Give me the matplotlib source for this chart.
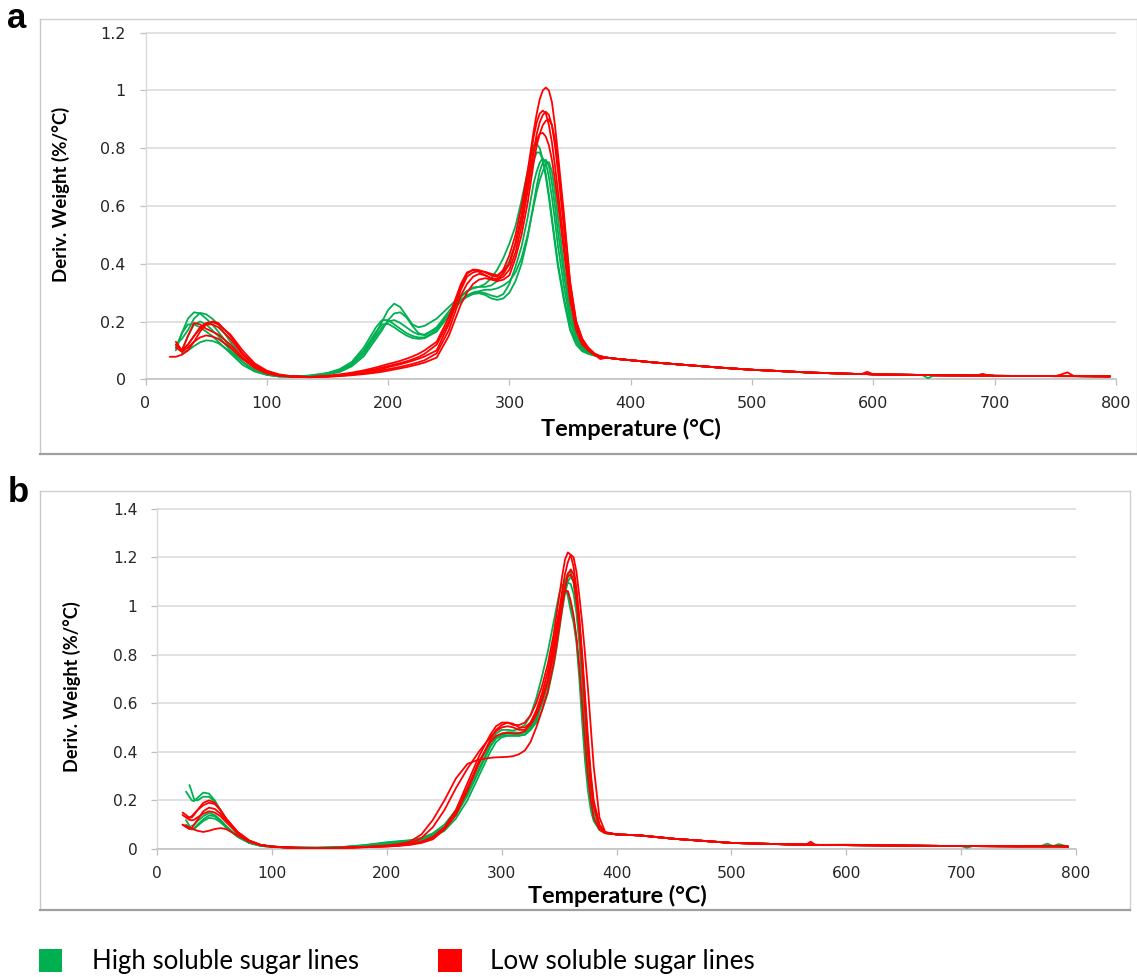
import numpy as np
import matplotlib
matplotlib.use('Agg')
import matplotlib.pyplot as plt
from matplotlib.lines import Line2D
from matplotlib.patches import Rectangle

# ---------------- DATA ----------------
# Panel a : temperature grid (°C) for the main part of each curve
Ta = [20, 25, 30, 35, 40, 45, 50, 55, 60, 70, 80, 90, 100, 110, 120, 135, 150, 160, 170, 180,
      190, 195, 200, 205, 210, 215, 220, 225, 230, 240, 250, 260, 265, 270, 275, 280, 285, 290,
      295, 300, 305, 310, 315, 317.5, 320, 322.5, 325, 327.5, 330, 332.5, 335, 337.5, 340, 345,
      350, 355, 360, 365, 370, 375]

# High soluble sugar lines (panel a)
GA1 = [None, 0.10, 0.16, 0.21, 0.232, 0.228, 0.21, 0.19, 0.165, 0.11, 0.06, 0.03, 0.016, 0.01, 0.009,
       0.012, 0.02, 0.03, 0.05, 0.09, 0.16, 0.2, 0.24, 0.262, 0.25, 0.22, 0.19, 0.18, 0.185, 0.21,
       0.25, 0.29, 0.305, 0.315, 0.32, 0.33, 0.35, 0.38, 0.42, 0.47, 0.53, 0.62, 0.72, 0.77, 0.81,
       0.815, 0.8, 0.76, 0.7, 0.63, 0.55, 0.47, 0.39, 0.27, 0.17, 0.12, 0.097, 0.088, 0.082, 0.078]
GA2 = [None, 0.12, 0.14, 0.17, 0.21, 0.23, 0.225, 0.21, 0.19, 0.13, 0.075, 0.04, 0.02, 0.012, 0.01,
       0.011, 0.017, 0.025, 0.045, 0.08, 0.14, 0.17, 0.205, 0.228, 0.232, 0.215, 0.185, 0.16, 0.152,
       0.18, 0.235, 0.285, 0.305, 0.318, 0.32, 0.32, 0.325, 0.34, 0.37, 0.41, 0.47, 0.55, 0.66, 0.71,
       0.76, 0.785, 0.785, 0.76, 0.71, 0.64, 0.56, 0.48, 0.4, 0.28, 0.18, 0.13, 0.1, 0.09, 0.083, 0.078]
GA3 = [None, 0.11, 0.16, 0.19, 0.19, 0.18, 0.165, 0.15, 0.13, 0.09, 0.05, 0.027, 0.015, 0.01, 0.01,
       0.013, 0.022, 0.035, 0.06, 0.11, 0.18, 0.205, 0.205, 0.19, 0.175, 0.16, 0.15, 0.145, 0.145,
       0.17, 0.225, 0.275, 0.29, 0.3, 0.302, 0.298, 0.29, 0.285, 0.295, 0.33, 0.39, 0.46, 0.56, 0.62,
       0.68, 0.72, 0.75, 0.765, 0.75, 0.7, 0.63, 0.55, 0.46, 0.32, 0.2, 0.14, 0.105, 0.09, 0.083, 0.078]
GA4 = [None, None, 0.1, 0.15, 0.19, 0.2, 0.19, 0.17, 0.15, 0.1, 0.06, 0.032, 0.017, 0.011, 0.01,
       0.012, 0.02, 0.032, 0.055, 0.1, 0.165, 0.19, 0.192, 0.18, 0.165, 0.152, 0.143, 0.14, 0.142,
       0.165, 0.22, 0.27, 0.285, 0.295, 0.298, 0.292, 0.28, 0.275, 0.28, 0.3, 0.34, 0.4, 0.49, 0.55,
       0.61, 0.67, 0.72, 0.75, 0.76, 0.74, 0.68, 0.6, 0.51, 0.36, 0.22, 0.15, 0.11, 0.092, 0.084, 0.078]
GA5 = [None, None, 0.09, 0.1, 0.115, 0.128, 0.135, 0.133, 0.125, 0.095, 0.06, 0.032, 0.017, 0.01, 0.009,
       0.011, 0.018, 0.028, 0.05, 0.09, 0.15, 0.18, 0.2, 0.205, 0.195, 0.18, 0.165, 0.155, 0.155,
       0.175, 0.225, 0.275, 0.29, 0.3, 0.305, 0.31, 0.31, 0.315, 0.325, 0.34, 0.37, 0.42, 0.5, 0.55,
       0.6, 0.65, 0.69, 0.72, 0.745, 0.752, 0.72, 0.65, 0.56, 0.39, 0.24, 0.16, 0.115, 0.095, 0.085, 0.079]

# Low soluble sugar lines (panel a)
RA1 = [0.078, 0.078, 0.085, 0.1, 0.13, 0.165, 0.19, 0.2, 0.195, 0.15, 0.09, 0.05, 0.025, 0.015, 0.01,
       0.008, 0.011, 0.015, 0.02, 0.027, 0.036, 0.041, 0.046, 0.051, 0.056, 0.062, 0.069, 0.077, 0.088,
       0.12, 0.2, 0.32, 0.365, 0.38, 0.378, 0.37, 0.36, 0.355, 0.38, 0.43, 0.5, 0.6, 0.72, 0.79, 0.86,
       0.92, 0.97, 1.0, 1.01, 1.0, 0.96, 0.88, 0.78, 0.57, 0.33, 0.2, 0.14, 0.11, 0.09, 0.08]
RA2 = [None, 0.13, 0.1, 0.15, 0.195, 0.19, 0.175, 0.165, 0.155, 0.12, 0.075, 0.04, 0.022, 0.013, 0.01,
       0.008, 0.012, 0.017, 0.023, 0.031, 0.041, 0.047, 0.053, 0.058, 0.064, 0.071, 0.079, 0.088, 0.1,
       0.13, 0.215, 0.33, 0.37, 0.378, 0.372, 0.36, 0.35, 0.348, 0.365, 0.4, 0.47, 0.57, 0.7, 0.77,
       0.84, 0.89, 0.92, 0.93, 0.92, 0.88, 0.82, 0.74, 0.65, 0.47, 0.29, 0.18, 0.13, 0.1, 0.085, 0.08]
RA3 = [None, 0.12, 0.1, 0.12, 0.15, 0.175, 0.19, 0.19, 0.18, 0.14, 0.085, 0.045, 0.024, 0.014, 0.01,
       0.007, 0.009, 0.012, 0.016, 0.021, 0.027, 0.031, 0.035, 0.039, 0.043, 0.048, 0.053, 0.059, 0.066,
       0.09, 0.17, 0.29, 0.33, 0.355, 0.365, 0.36, 0.35, 0.345, 0.355, 0.38, 0.44, 0.53, 0.65, 0.72,
       0.79, 0.85, 0.89, 0.915, 0.926, 0.915, 0.88, 0.81, 0.72, 0.52, 0.32, 0.19, 0.13, 0.1, 0.085, 0.07]
RA4 = [None, 0.11, 0.095, 0.11, 0.13, 0.145, 0.152, 0.148, 0.14, 0.11, 0.07, 0.04, 0.02, 0.012, 0.009,
       0.008, 0.01, 0.014, 0.019, 0.025, 0.032, 0.036, 0.042, 0.047, 0.052, 0.058, 0.064, 0.071, 0.079,
       0.1, 0.19, 0.31, 0.355, 0.37, 0.375, 0.372, 0.365, 0.36, 0.375, 0.4, 0.47, 0.56, 0.68, 0.74,
       0.79, 0.83, 0.85, 0.853, 0.84, 0.81, 0.76, 0.69, 0.61, 0.44, 0.27, 0.17, 0.12, 0.1, 0.085, 0.08]
RA5 = [None, None, 0.1, 0.12, 0.15, 0.18, 0.195, 0.198, 0.19, 0.155, 0.1, 0.055, 0.03, 0.017, 0.011,
       0.008, 0.009, 0.011, 0.014, 0.018, 0.023, 0.026, 0.03, 0.034, 0.038, 0.042, 0.047, 0.052, 0.058,
       0.075, 0.15, 0.26, 0.3, 0.33, 0.345, 0.35, 0.345, 0.34, 0.345, 0.36, 0.42, 0.5, 0.61, 0.68,
       0.75, 0.81, 0.85, 0.88, 0.895, 0.9, 0.88, 0.83, 0.75, 0.55, 0.34, 0.2, 0.14, 0.105, 0.088, 0.078]

# Panel a : tail (above 375 °C)
Ta_tail = [380, 390, 400, 420, 450, 475, 500, 550, 590, 595, 600, 640, 645, 650, 685, 690, 695, 700,
           750, 755, 760, 765, 795]
tail_a = [0.075, 0.07, 0.066, 0.058, 0.048, 0.04, 0.033, 0.023, 0.018, 0.018, 0.017, 0.015, 0.015,
          0.014, 0.013, 0.013, 0.013, 0.012, 0.011, 0.011, 0.011, 0.011, 0.01]
tail_a_red_bumps = [0.075, 0.07, 0.066, 0.058, 0.048, 0.04, 0.033, 0.023, 0.018, 0.026, 0.017, 0.015,
                    0.015, 0.014, 0.013, 0.019, 0.013, 0.012, 0.011, 0.017, 0.024, 0.012, 0.01]
tail_a_green_dip = [0.075, 0.07, 0.066, 0.058, 0.048, 0.04, 0.033, 0.023, 0.018, 0.018, 0.017, 0.015,
                    0.004, 0.014, 0.013, 0.013, 0.013, 0.012, 0.011, 0.011, 0.011, 0.011, 0.01]

# Panel b : temperature grid (°C)
Tb = [20, 22, 25, 28, 30, 32, 35, 40, 45, 50, 55, 60, 70, 80, 90, 100, 110, 120, 140, 160, 180, 200,
      210, 220, 230, 240, 250, 260, 270, 280, 290, 295, 300, 305, 310, 315, 320, 325, 330, 335, 340,
      345, 347.5, 350, 352.5, 355, 357.5, 360, 362.5, 365, 367.5, 370, 372.5, 375, 377.5, 380, 385, 390]

GB1 = [None, None, 0.236, 0.215, 0.2, 0.197, 0.21, 0.232, 0.228, 0.2, 0.16, 0.12, 0.06, 0.03, 0.015,
       0.01, 0.008, 0.006, 0.005, 0.007, 0.015, 0.025, 0.03, 0.035, 0.045, 0.065, 0.1, 0.16, 0.25, 0.35,
       0.44, 0.475, 0.49, 0.49, 0.487, 0.495, 0.51, 0.55, 0.62, 0.71, 0.81, 0.93, 0.99, 1.05, 1.088,
       1.08, 1.04, 0.98, 0.93, 0.85, 0.7, 0.52, 0.36, 0.24, 0.16, 0.115, 0.078, 0.065]
GB2 = [None, None, None, 0.263, 0.235, 0.205, 0.2, 0.215, 0.215, 0.195, 0.16, 0.12, 0.06, 0.03, 0.016,
       0.01, 0.008, 0.006, 0.005, 0.007, 0.012, 0.02, 0.025, 0.03, 0.04, 0.055, 0.085, 0.14, 0.22, 0.32,
       0.42, 0.455, 0.47, 0.475, 0.475, 0.475, 0.48, 0.5, 0.54, 0.6, 0.68, 0.8, 0.87, 0.95, 1.03, 1.1,
       1.135, 1.14, 1.1, 1.0, 0.86, 0.7, 0.52, 0.36, 0.24, 0.16, 0.09, 0.066]
GB3 = [None, None, 0.119, 0.095, 0.082, 0.085, 0.1, 0.122, 0.138, 0.135, 0.115, 0.09, 0.05, 0.025,
       0.013, 0.008, 0.007, 0.005, 0.005, 0.008, 0.016, 0.028, 0.032, 0.036, 0.045, 0.06, 0.09, 0.145,
       0.23, 0.33, 0.425, 0.455, 0.465, 0.468, 0.468, 0.468, 0.47, 0.49, 0.53, 0.6, 0.69, 0.82, 0.89,
       0.96, 1.03, 1.065, 1.06, 1.01, 0.95, 0.86, 0.74, 0.58, 0.42, 0.29, 0.19, 0.13, 0.08, 0.065]
GB4 = [None, None, 0.1, 0.088, 0.08, 0.082, 0.095, 0.115, 0.128, 0.125, 0.11, 0.088, 0.05, 0.025, 0.013,
       0.008, 0.007, 0.005, 0.005, 0.006, 0.01, 0.018, 0.022, 0.027, 0.035, 0.05, 0.075, 0.125, 0.2, 0.3,
       0.4, 0.44, 0.46, 0.465, 0.465, 0.465, 0.47, 0.49, 0.52, 0.57, 0.64, 0.75, 0.82, 0.9, 0.98, 1.05,
       1.1, 1.12, 1.1, 1.03, 0.92, 0.77, 0.6, 0.43, 0.29, 0.19, 0.1, 0.068]
GB5 = [None, None, None, None, 0.095, 0.1, 0.115, 0.135, 0.148, 0.14, 0.12, 0.095, 0.052, 0.026, 0.014,
       0.009, 0.007, 0.005, 0.005, 0.007, 0.013, 0.022, 0.028, 0.033, 0.042, 0.058, 0.088, 0.14, 0.225,
       0.325, 0.425, 0.46, 0.475, 0.48, 0.48, 0.478, 0.48, 0.5, 0.54, 0.6, 0.68, 0.8, 0.87, 0.95, 1.02,
       1.07, 1.095, 1.09, 1.05, 0.97, 0.85, 0.69, 0.52, 0.36, 0.24, 0.16, 0.09, 0.066]

RB1 = [None, 0.15, 0.14, 0.128, 0.13, 0.14, 0.16, 0.19, 0.2, 0.19, 0.16, 0.125, 0.07, 0.035, 0.017,
       0.01, 0.007, 0.005, 0.004, 0.005, 0.008, 0.012, 0.015, 0.02, 0.03, 0.05, 0.09, 0.16, 0.27, 0.38,
       0.47, 0.505, 0.52, 0.52, 0.51, 0.51, 0.52, 0.55, 0.6, 0.67, 0.76, 0.88, 0.96, 1.04, 1.12, 1.19,
       1.22, 1.21, 1.16, 1.07, 0.94, 0.78, 0.6, 0.42, 0.28, 0.18, 0.095, 0.067]
RB2 = [None, 0.1, 0.09, 0.082, 0.085, 0.1, 0.12, 0.155, 0.17, 0.165, 0.145, 0.115, 0.065, 0.033, 0.016,
       0.01, 0.007, 0.005, 0.004, 0.005, 0.007, 0.01, 0.013, 0.017, 0.025, 0.04, 0.08, 0.14, 0.24, 0.35,
       0.45, 0.49, 0.51, 0.52, 0.515, 0.5, 0.5, 0.52, 0.56, 0.62, 0.7, 0.82, 0.9, 0.98, 1.06, 1.13,
       1.18, 1.21, 1.2, 1.14, 1.04, 0.93, 0.8, 0.66, 0.5, 0.34, 0.13, 0.07]
RB3 = [None, 0.1, 0.095, 0.09, 0.085, 0.08, 0.075, 0.07, 0.075, 0.082, 0.086, 0.082, 0.055, 0.03, 0.016,
       0.01, 0.007, 0.005, 0.004, 0.005, 0.008, 0.015, 0.02, 0.03, 0.06, 0.12, 0.2, 0.29, 0.35, 0.368,
       0.375, 0.377, 0.378, 0.379, 0.382, 0.39, 0.405, 0.44, 0.5, 0.57, 0.65, 0.76, 0.83, 0.91, 0.99,
       1.07, 1.13, 1.15, 1.13, 1.06, 0.95, 0.8, 0.63, 0.46, 0.31, 0.2, 0.1, 0.068]
RB4 = [None, 0.14, 0.13, 0.12, 0.118, 0.12, 0.13, 0.145, 0.155, 0.15, 0.135, 0.11, 0.065, 0.033, 0.016,
       0.01, 0.007, 0.005, 0.004, 0.005, 0.008, 0.012, 0.015, 0.022, 0.045, 0.09, 0.16, 0.25, 0.33, 0.4,
       0.46, 0.485, 0.5, 0.505, 0.5, 0.49, 0.49, 0.51, 0.55, 0.61, 0.69, 0.8, 0.87, 0.95, 1.02, 1.08,
       1.12, 1.13, 1.1, 1.02, 0.9, 0.75, 0.58, 0.41, 0.27, 0.18, 0.095, 0.067]
RB5 = [None, None, 0.13, 0.13, 0.135, 0.145, 0.16, 0.18, 0.19, 0.185, 0.16, 0.125, 0.07, 0.035, 0.017,
       0.01, 0.007, 0.005, 0.004, 0.005, 0.008, 0.011, 0.014, 0.019, 0.03, 0.045, 0.085, 0.15, 0.25,
       0.36, 0.44, 0.465, 0.475, 0.478, 0.475, 0.475, 0.485, 0.52, 0.57, 0.64, 0.73, 0.85, 0.92, 0.98,
       1.03, 1.06, 1.06, 1.02, 0.96, 0.87, 0.75, 0.6, 0.44, 0.3, 0.2, 0.13, 0.08, 0.065]

Tb_tail = [400, 420, 450, 500, 550, 565, 569, 573, 600, 650, 700, 705, 710, 750, 770, 775, 780, 785, 793]
tail_b = [0.06, 0.056, 0.042, 0.025, 0.019, 0.018, 0.018, 0.017, 0.016, 0.014, 0.012, 0.012, 0.012,
          0.011, 0.011, 0.011, 0.011, 0.011, 0.01]
tail_b_red_bump = [0.06, 0.056, 0.042, 0.025, 0.019, 0.018, 0.03, 0.017, 0.016, 0.014, 0.012, 0.012,
                   0.012, 0.011, 0.011, 0.011, 0.011, 0.011, 0.01]
tail_b_green_wiggle = [0.06, 0.056, 0.042, 0.025, 0.019, 0.018, 0.018, 0.017, 0.018, 0.014, 0.012,
                       0.005, 0.012, 0.011, 0.013, 0.022, 0.012, 0.02, 0.01]

legend_labels = ['High soluble sugar lines', 'Low soluble sugar lines']
xticks = [0, 100, 200, 300, 400, 500, 600, 700, 800]
yticks_a = [0, 0.2, 0.4, 0.6, 0.8, 1, 1.2]
yticks_b = [0, 0.2, 0.4, 0.6, 0.8, 1, 1.2, 1.4]

GREEN = '#00B050'
RED = '#FF0000'

# ---------------- FIGURE ----------------
W, H = 1137, 977
fig = plt.figure(figsize=(W / 100, H / 100), dpi=100)
fig.patch.set_facecolor('white')


def fx(px):
    return px / W


def fy(py):
    return 1 - py / H


def frame(x0, y0, x1, y1):
    segs = [((x0, y0), (x1, y0), '#D0D0D0', 1.0),
            ((x0, y0), (x0, y1), '#C8C8C8', 1.0),
            ((x1, y0), (x1, y1), '#D0D0D0', 1.0),
            ((x0, y1), (x1, y1), '#A0A0A0', 1.6)]
    for (a, b, c, lw) in segs:
        fig.add_artist(Line2D([fx(a[0]), fx(b[0])], [fy(a[1]), fy(b[1])],
                              transform=fig.transFigure, color=c, lw=lw))


frame(39.5, 18.5, 1136.5, 453.5)
frame(39.5, 490.5, 1130, 910)


def ylab(v):
    return '%g' % v


def make_axes(rect, yt, ylim, fs):
    ax = fig.add_axes(rect)
    ax.set_xlim(0, 800)
    ax.set_ylim(0, ylim)
    ax.set_xticks(xticks)
    ax.set_yticks(yt)
    ax.set_yticklabels([ylab(v) for v in yt])
    ax.grid(axis='y', color='#D9D9D9', lw=1.1)
    ax.grid(axis='x', visible=False)
    ax.set_axisbelow(True)
    for s in ['top', 'right']:
        ax.spines[s].set_visible(False)
    ax.spines['left'].set_color('#D9D9D9')
    ax.spines['bottom'].set_color('#BFBFBF')
    ax.spines['left'].set_linewidth(1.0)
    ax.spines['bottom'].set_linewidth(1.1)
    ax.tick_params(axis='both', colors='#BFBFBF', labelcolor='#262626',
                   labelsize=fs, length=4.3, width=0.9, direction='out')
    ax.tick_params(axis='y', pad=10)
    ax.tick_params(axis='x', pad=8)
    ax.patch.set_alpha(0)
    return ax


# panel a axes: x 0->145.5px, 800->1116px ; y 0->379.3px, 1.2->32.3px
axa = make_axes([fx(145.5), fy(379.3), fx(1116) - fx(145.5), fy(32.3) - fy(379.3)],
                yticks_a, 1.2 * 1.001, 11.5)
# panel b axes: x 0->157.3px, 800->1076px ; y 0->849px, 1.4->508.3px
axb = make_axes([fx(157.3), fy(849), fx(1076) - fx(157.3), fy(508.3) - fy(849)],
                yticks_b, 1.4 * 1.001, 11.2)


def curve(ax, T, vals, Ttail, tail, color):
    x = np.array(list(T) + list(Ttail), dtype=float)
    y = np.array(list(vals) + list(tail), dtype=float)
    ax.plot(x, y, color=color, lw=1.3, solid_joinstyle='round', solid_capstyle='round', zorder=3)


for g, t in [(GA1, tail_a), (GA2, tail_a), (GA3, tail_a_green_dip), (GA4, tail_a), (GA5, tail_a)]:
    curve(axa, Ta, g, Ta_tail, t, GREEN)
for r, t in [(RA1, tail_a), (RA2, tail_a), (RA3, tail_a), (RA4, tail_a_red_bumps), (RA5, tail_a)]:
    curve(axa, Ta, r, Ta_tail, t, RED)

for g, t in [(GB1, tail_b_green_wiggle), (GB2, tail_b), (GB3, tail_b), (GB4, tail_b), (GB5, tail_b)]:
    curve(axb, Tb, g, Tb_tail, t, GREEN)
for r, t in [(RB1, tail_b), (RB2, tail_b_red_bump), (RB3, tail_b), (RB4, tail_b), (RB5, tail_b)]:
    curve(axb, Tb, r, Tb_tail, t, RED)

# ---------------- TEXTS ----------------
BOLD = ['Lato', 'DejaVu Sans']
texts = []
texts.append((fig.text(fx(631), fy(428.5), 'Temperature (°C)', ha='center', va='center',
                       fontsize=14, fontweight='bold', family=BOLD, color='black'), 181, 'w'))
texts.append((fig.text(fx(617), fy(896), 'Temperature (°C)', ha='center', va='center',
                       fontsize=14, fontweight='bold', family=BOLD, color='black'), 180, 'w'))
texts.append((fig.text(fx(61), fy(194.5), 'Deriv. Weight (%/°C)', ha='center', va='center',
                       rotation=90, fontsize=13, fontweight='bold', family=BOLD, color='black'), 175, 'h'))
texts.append((fig.text(fx(71.7), fy(686.7), 'Deriv. Weight (%/°C)', ha='center', va='center',
                       rotation=90, fontsize=13, fontweight='bold', family=BOLD, color='black'), 170, 'h'))

fig.text(fx(16.5), fy(28.5), 'a', ha='center', va='baseline', fontsize=25, fontweight='bold',
         family=['Liberation Sans', 'DejaVu Sans'], color='black')
fig.text(fx(18.5), fy(502), 'b', ha='center', va='baseline', fontsize=25, fontweight='bold',
         family=['Liberation Sans', 'DejaVu Sans'], color='black')

# legend
fig.add_artist(Rectangle((fx(38.5), fy(972)), fx(62) - fx(38.5), fy(949) - fy(972),
                         transform=fig.transFigure, facecolor=GREEN, edgecolor='none'))
fig.add_artist(Rectangle((fx(438), fy(972)), fx(461.5) - fx(438), fy(949) - fy(972),
                         transform=fig.transFigure, facecolor=RED, edgecolor='none'))
REG = ['Lato', 'DejaVu Sans']
texts.append((fig.text(fx(92), fy(962), legend_labels[0], ha='left', va='center', fontsize=16,
                       family=REG, color='black'), 268, 'w'))
texts.append((fig.text(fx(490), fy(962), legend_labels[1], ha='left', va='center', fontsize=16,
                       family=REG, color='black'), 265, 'w'))

# fit text sizes to the measured widths of the reference
fig.canvas.draw()
rend = fig.canvas.get_renderer()
for t, target, dim in texts:
    bb = t.get_window_extent(rend)
    cur = bb.width if dim == 'w' else bb.height
    if cur > 0:
        t.set_fontsize(t.get_fontsize() * target / cur)

fig.savefig('out.png', dpi=100, facecolor='white')
